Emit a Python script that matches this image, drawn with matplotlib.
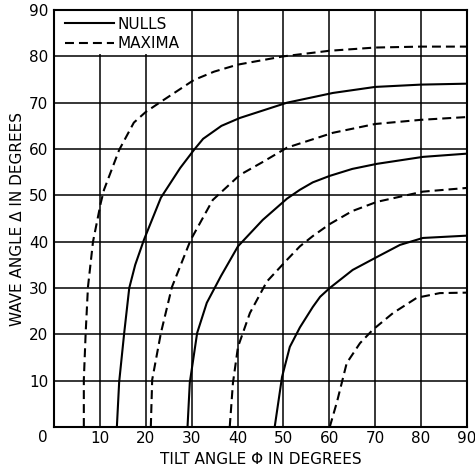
import matplotlib
matplotlib.use("Agg")
import matplotlib.pyplot as plt
from matplotlib.patches import Rectangle

plt.rcParams['font.family'] = ['DejaVu Sans']

# curves: tilt angle (x) vs wave angle (y)
null1_x = [13.7, 14.2, 15.3, 16.4, 17.7, 19.6, 23.3, 27.5, 30.5, 32.5, 36.5, 40.5, 50.8, 60.8, 70.0, 80.0, 90.0]
null1_y = [0, 9.7, 20.3, 30.0, 35.0, 40.4, 49.5, 55.9, 59.8, 62.2, 65.0, 66.7, 70.0, 72.1, 73.4, 73.9, 74.1]
null2_x = [29.1, 29.6, 31.2, 33.3, 36.4, 40.1, 45.5, 50.8, 53.6, 56.4, 60.1, 65.0, 70.4, 80.4, 90.0]
null2_y = [0, 9.6, 20.3, 26.8, 32.6, 39.0, 44.7, 49.3, 51.2, 52.8, 54.2, 55.7, 56.8, 58.3, 59.0]
null3_x = [48.1, 49.7, 51.4, 53.6, 56.4, 58.0, 60.1, 65.1, 70.4, 75.4, 80.4, 90.0]
null3_y = [0, 10.8, 17.3, 21.5, 25.9, 28.1, 30.0, 33.9, 36.7, 39.3, 40.8, 41.3]

max1_x = [6.5, 6.5, 6.9, 7.4, 8.5, 10.2, 10.9, 14.2, 17.4, 20.0, 23.3, 30.5, 34.9, 40.0, 50.0, 60.0, 70.0, 80.0, 90.0]
max1_y = [0, 10.2, 20.3, 30.2, 40.0, 48.4, 51.2, 59.8, 65.7, 68.0, 70.2, 74.9, 76.7, 78.2, 80.0, 81.2, 81.9, 82.1, 82.1]
max2_x = [21.1, 21.4, 23.3, 25.7, 29.8, 34.6, 40.5, 45.5, 50.8, 60.8, 70.0, 80.0, 90.0]
max2_y = [0, 10.2, 20.3, 30.2, 40.4, 49.0, 54.4, 57.2, 60.3, 63.5, 65.4, 66.3, 66.9]
max3_x = [38.3, 39.0, 40.1, 42.7, 46.4, 50.8, 53.6, 56.4, 60.1, 65.0, 70.4, 80.4, 90.0]
max3_y = [0, 9.5, 17.3, 24.6, 31.4, 36.1, 39.0, 41.2, 43.8, 46.6, 48.6, 50.8, 51.6]
max4_x = [60.1, 61.7, 63.8, 66.7, 69.5, 73.9, 79.1, 84.1, 90.0]
max4_y = [0, 5.5, 13.8, 18.1, 21.0, 24.6, 27.9, 28.9, 29.0]

ticks = [10, 20, 30, 40, 50, 60, 70, 80, 90]

fig = plt.figure(figsize=(4.75, 4.70), dpi=100)
ax = fig.add_axes([0.1137, 0.0915, 0.8693, 0.8872])

lw = 1.5
dash = (4.3, 2.4)
ax.plot(null1_x, null1_y, color='k', lw=lw, label='NULLS', zorder=3)
ax.plot(null2_x, null2_y, color='k', lw=lw, zorder=3)
ax.plot(null3_x, null3_y, color='k', lw=lw, zorder=3)
ax.plot(max1_x, max1_y, color='k', lw=lw, dashes=dash, label='MAXIMA', zorder=3)
ax.plot(max2_x, max2_y, color='k', lw=lw, dashes=dash, zorder=3)
ax.plot(max3_x, max3_y, color='k', lw=lw, dashes=dash, zorder=3)
ax.plot(max4_x, max4_y, color='k', lw=lw, dashes=dash, zorder=3)

ax.set_xlim(0, 90)
ax.set_ylim(0, 90)
ax.set_xticks(ticks)
ax.set_yticks(ticks)
ax.set_axisbelow(True)
ax.grid(True, color='k', lw=1.1)
ax.tick_params(length=0, labelsize=11)
ax.tick_params(axis='x', pad=3)
ax.tick_params(axis='y', pad=4)
for s in ax.spines.values():
    s.set_linewidth(1.5)

# blank out the grid behind the legend
ax.add_patch(Rectangle((0.3, 80.5), 29.3, 9.3, facecolor='white', edgecolor='none', zorder=1))
ax.legend(loc='upper left', bbox_to_anchor=(0.0, 1.01), frameon=False, fontsize=11,
          handlelength=3.2, handletextpad=0.25, labelspacing=0.3, borderaxespad=0.3)

ax.text(-2.4, -2.3, '0', ha='center', va='center', fontsize=11, clip_on=False)
ax.set_xlabel('TILT ANGLE Φ IN DEGREES', fontsize=11, labelpad=4)
ax.set_ylabel('WAVE ANGLE Δ IN DEGREES', fontsize=11, labelpad=3)

fig.savefig('out.png', dpi=100)
